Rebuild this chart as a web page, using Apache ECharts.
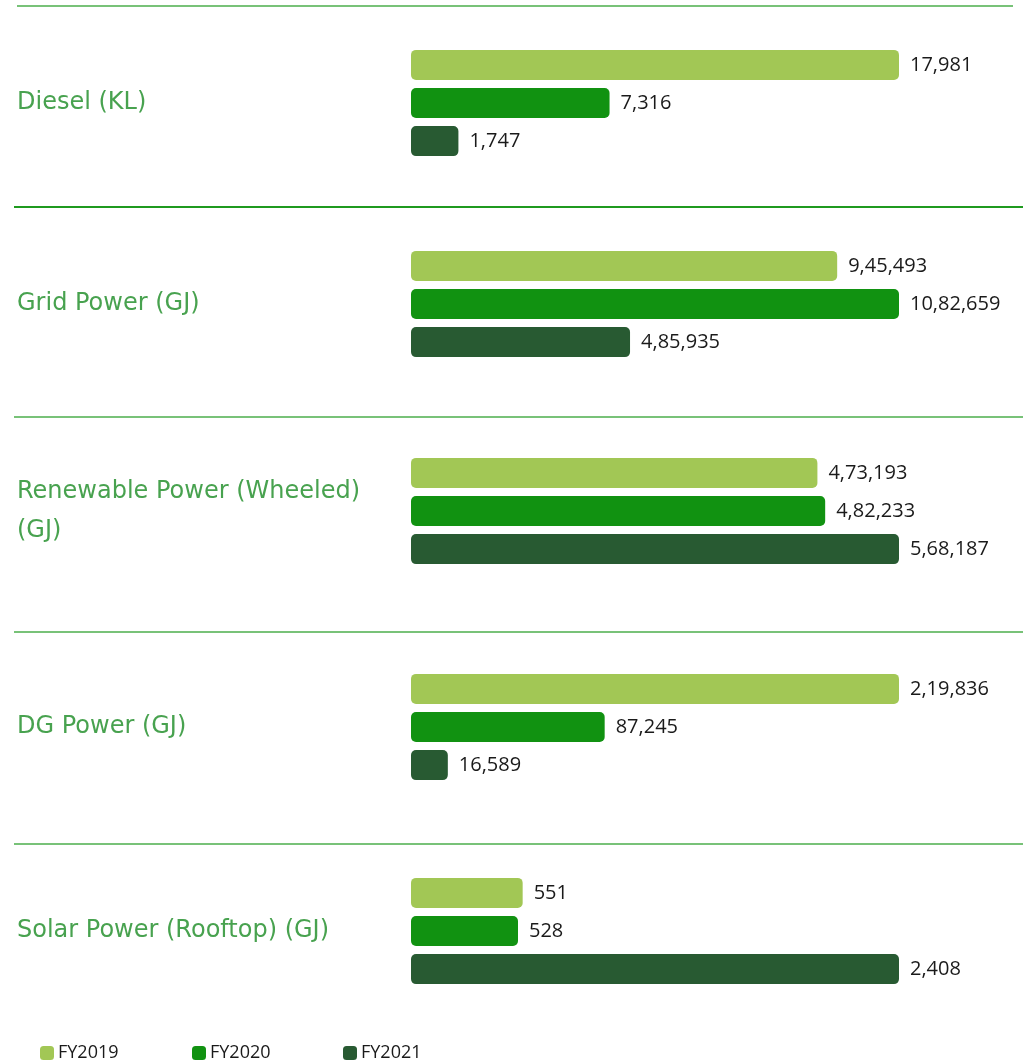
<!DOCTYPE html>
<html>
<head>
<meta charset="utf-8">
<title>Energy consumption</title>
<script src="https://cdn.jsdelivr.net/npm/echarts@6/dist/echarts.min.js"></script>
<style>
  html, body { margin: 0; padding: 0; background: #fff; }
  #chart { width: 1023px; height: 1064px; }
</style>
</head>
<body>
<div id="chart"></div>
<script>
// categories (one panel each) and series values
var categories = ['Diesel (KL)', 'Grid Power (GJ)', 'Renewable Power (Wheeled) (GJ)', 'DG Power (GJ)', 'Solar Power (Rooftop) (GJ)'];
var years = ['FY2019', 'FY2020', 'FY2021'];
var fy2019 = [17981, 945493, 473193, 219836, 551];
var fy2020 = [7316, 1082659, 482233, 87245, 528];
var fy2021 = [1747, 485935, 568187, 16589, 2408];

var colors = ['#a2c755', '#119211', '#285a32'];
var panelTops = [46, 247, 454, 670, 874];
var legendLefts = [40, 192, 343];
var separators = [
  {y: 6, x1: 17, x2: 1013, color: '#78c278'},
  {y: 207, x1: 14, x2: 1023, color: '#1f9a1f'},
  {y: 417, x1: 14, x2: 1023, color: '#78c278'},
  {y: 632, x1: 14, x2: 1023, color: '#78c278'},
  {y: 844, x1: 14, x2: 1023, color: '#78c278'}
];

//印度数字分组 9,45,493
function fmtIN(v){
  var s = String(v);
  if(s.length <= 3) return s;
  var last3 = s.slice(-3), rest = s.slice(0, -3);
  rest = rest.replace(/\B(?=(\d{2})+(?!\d))/g, ',');
  return rest + ',' + last3;
}

var values = [fy2019, fy2020, fy2021];
var grid = [], xAxis = [], yAxis = [], series = [];

categories.forEach(function(name, i){
  grid.push({left: 411, width: 488, top: panelTops[i], height: 114});
  xAxis.push({
    type: 'value', gridIndex: i, min: 0,
    max: Math.max(fy2019[i], fy2020[i], fy2021[i]),
    show: false
  });
  yAxis.push({
    type: 'category', gridIndex: i, data: [name], inverse: true,
    axisLine: {show: false}, axisTick: {show: false}, splitLine: {show: false},
    axisLabel: {
      align: 'left', margin: 394, width: 370, overflow: 'break',
      color: '#48a24f', fontSize: 24, lineHeight: 39,
      fontFamily: 'DejaVu Sans', padding: [0, 0, 6, 0]
    }
  });
  years.forEach(function(yr, k){
    series.push({
      type: 'bar', name: yr, xAxisIndex: i, yAxisIndex: i,
      data: [values[k][i]],
      barWidth: 30, barGap: '27%',
      itemStyle: {color: colors[k], borderRadius: 5},
      label: {
        show: true, position: 'right', distance: 11,
        color: '#1a1a1a', fontSize: 20, fontFamily: 'Open Sans',
        formatter: function(p){ return fmtIN(p.value); }
      }
    });
  });
});

var chart = echarts.init(document.getElementById('chart'));
chart.setOption({
  animation: false,
  color: colors,
  grid: grid,
  xAxis: xAxis,
  yAxis: yAxis,
  legend: years.map(function(yr, k){
    return {
      data: [yr], left: legendLefts[k], top: 1044, padding: 0,
      icon: 'roundRect', itemWidth: 14, itemHeight: 14, itemGap: 0,
      selectedMode: false,
      textStyle: {color: '#1a1a1a', fontSize: 18, fontFamily: 'Open Sans', padding: [0, 0, 0, -1]}
    };
  }),
  graphic: separators.map(function(s){
    return {
      type: 'line', silent: true,
      shape: {x1: s.x1, y1: s.y, x2: s.x2, y2: s.y},
      style: {stroke: s.color, lineWidth: 2}
    };
  }),
  series: series
});
</script>
</body>
</html>
